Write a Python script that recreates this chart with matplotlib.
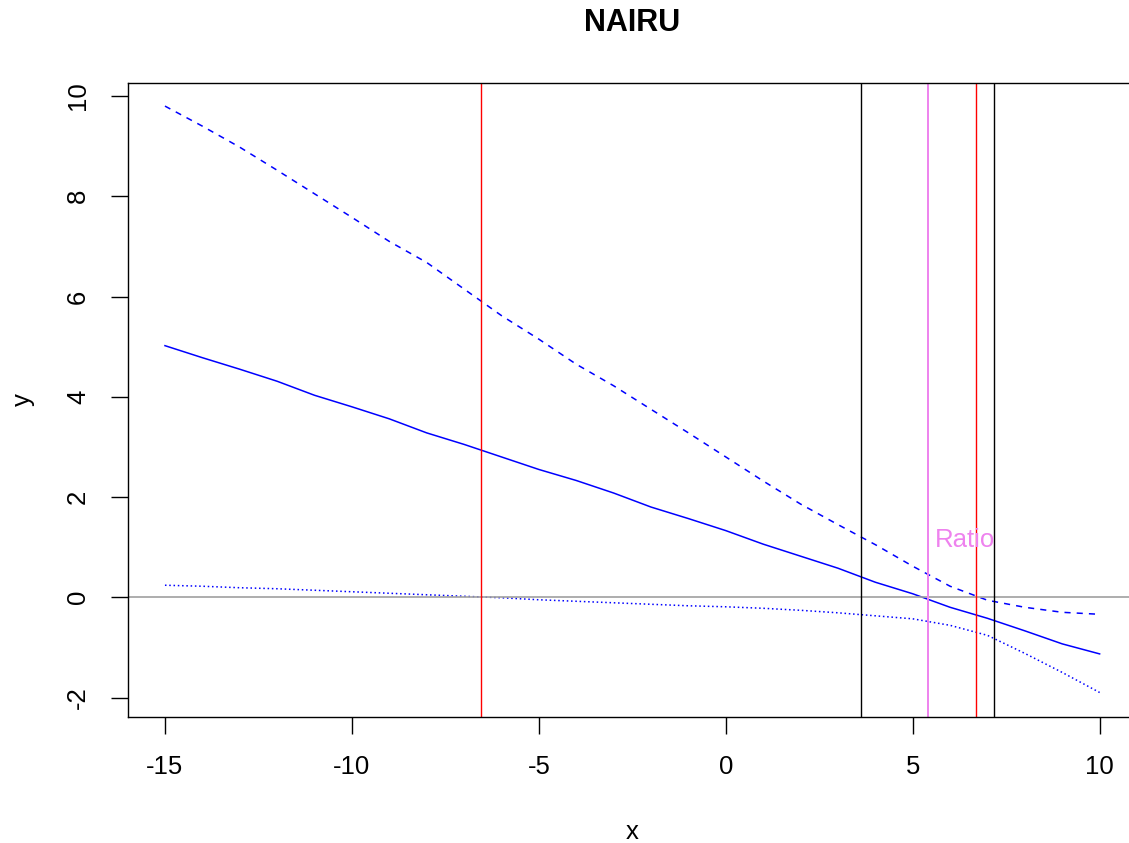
import matplotlib
matplotlib.use("Agg")
import matplotlib.pyplot as plt
import numpy as np

plt.rcParams['font.family'] = ['Liberation Sans', 'DejaVu Sans']

# values, one per unit of x
x = list(range(-15, 11))
est = [5.02, 4.78, 4.55, 4.31, 4.03, 3.80, 3.56, 3.28, 3.05, 2.80, 2.55, 2.33, 2.08,
       1.80, 1.57, 1.33, 1.06, 0.82, 0.58, 0.30, 0.07, -0.20, -0.42, -0.67, -0.93, -1.13]
upper = [9.80, 9.40, 8.98, 8.52, 8.05, 7.58, 7.10, 6.68, 6.15, 5.62, 5.15, 4.65, 4.22,
         3.75, 3.28, 2.80, 2.32, 1.86, 1.45, 1.05, 0.62, 0.22, -0.06, -0.20, -0.30, -0.34]
lower = [0.24, 0.22, 0.19, 0.17, 0.14, 0.11, 0.08, 0.05, 0.02, -0.01, -0.05, -0.08, -0.11,
         -0.14, -0.17, -0.19, -0.22, -0.26, -0.31, -0.37, -0.43, -0.56, -0.76, -1.12, -1.50, -1.90]

red_lines = [-6.55, 6.70]
black_lines = [3.61, 7.17]
ratio_line = 5.40
ratio_label = "Ratio"
ratio_pos = (5.59, 1.0)

xticks = [-15, -10, -5, 0, 5, 10]
yticks = [-2, 0, 2, 4, 6, 8, 10]

fig = plt.figure(figsize=(11.29, 8.43), dpi=100)
ax = fig.add_axes([0.1130, 0.1500, 0.8941, 0.7521])

ax.plot(x, est, color='#0000FF', lw=1.1)
ax.plot(x, upper, color='#0000FF', lw=1.1, linestyle=(0, (4, 4)))
ax.plot(x, lower, color='#0000FF', lw=1.1, linestyle=(0, (1, 1.8)))

ax.axhline(0, color='#A0A0A0', lw=1.2)
for v in red_lines:
    ax.axvline(v, color='#FF0000', lw=1.0)
for v in black_lines:
    ax.axvline(v, color='black', lw=1.0)
ax.axvline(ratio_line, color='#EE82EE', lw=1.4)
ax.text(ratio_pos[0], ratio_pos[1], ratio_label, color='#EE82EE', fontsize=18.5,
        ha='left', va='baseline')

ax.set_xlim(-16, 11)
ax.set_ylim(-2.38, 10.27)
ax.set_xticks(xticks)
ax.set_yticks(yticks)
ax.set_xticklabels([str(t) for t in xticks])
ax.set_yticklabels([str(t) for t in yticks], rotation=90, va='center')
ax.tick_params(axis='both', length=12, width=1.0, labelsize=18.5)
ax.tick_params(axis='x', pad=15.5)
ax.tick_params(axis='y', pad=15)
for s in ax.spines.values():
    s.set_linewidth(1.0)

ax.set_xlabel('x', fontsize=18.5, labelpad=30)
ax.set_ylabel('y', fontsize=18.5, labelpad=22.5)
ax.set_title('NAIRU', fontsize=22, fontweight='bold', pad=37)

fig.savefig('out.png', dpi=100)
